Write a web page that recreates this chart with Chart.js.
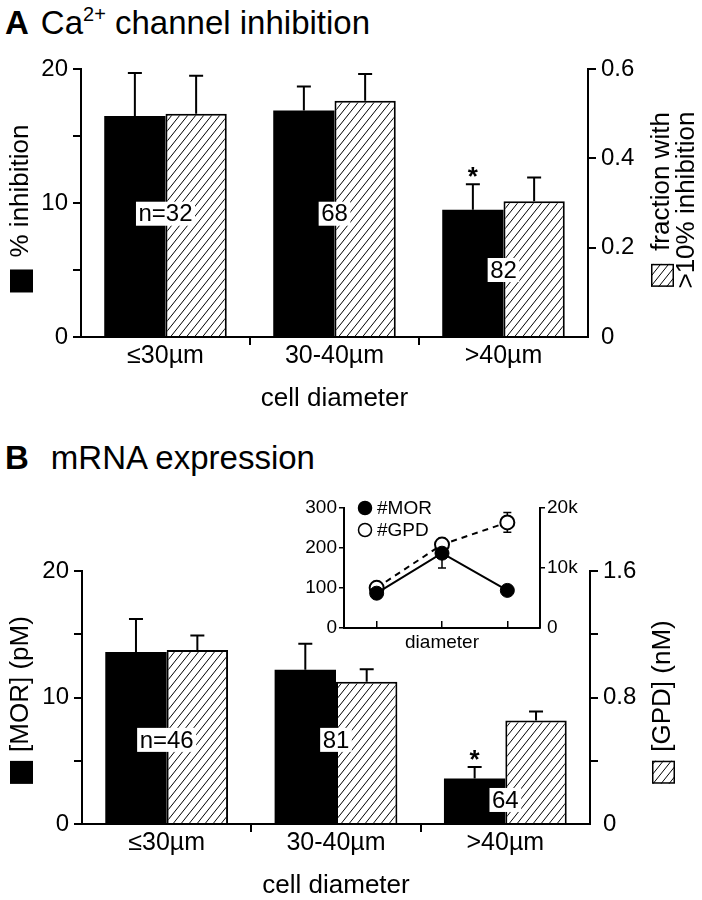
<!DOCTYPE html>
<html>
<head>
<meta charset="utf-8">
<script src="https://cdn.jsdelivr.net/npm/chart.js@4.4.0/dist/chart.umd.min.js"></script>
<style>
  body { margin: 0; background: #fff; width: 702px; height: 900px; position: relative; overflow: hidden;
         font-family: 'Liberation Sans', Arial, Helvetica, sans-serif; color: #000; }
  .title { position: absolute; left: 5px; font-size: 33px; line-height: 33px; white-space: nowrap; }
  .title b { display: inline-block; }
  .title .sup { font-size: 20px; position: relative; top: -13px; }
  canvas { position: absolute; }
</style>
</head>
<body>
<div class="title" style="top:6px"><b style="margin-right:12px">A</b>Ca<span class="sup">2+</span> channel inhibition</div>
<div class="title" style="top:441px"><b style="margin-right:22px">B</b>mRNA expression</div>
<canvas id="panelA" width="702" height="420" style="left:0;top:0"></canvas>
<canvas id="panelB" width="702" height="460" style="left:0;top:440px"></canvas>
<canvas id="inset" width="320" height="180" style="left:290px;top:480px"></canvas>
<script>
const FONT = "'Liberation Sans', Arial, Helvetica, sans-serif";
Chart.defaults.font.family = FONT;
Chart.defaults.color = '#000';

// categories
const sizeGroups = ['≤30µm', '30-40µm', '>40µm'];

// A: Ca2+ channel inhibition
const inhibitionPct = [16.5, 16.9, 9.5];
const inhibitionPctErr = [3.2, 1.8, 1.9];
const fractionInhibited = [0.50, 0.529, 0.304];
const fractionInhibitedErr = [0.085, 0.06, 0.053];
const cellCountsA = ['n=32', '68', '82'];

// B: mRNA expression
const morConc = [13.6, 12.2, 3.6];
const morConcErr = [2.6, 2.05, 0.9];
const gpdConc = [1.10, 0.90, 0.654];
const gpdConcErr = [0.092, 0.078, 0.057];
const cellCountsB = ['n=46', '81', '64'];

// B inset: copies per cell
const morCopies = [87, 187, 94];
const morCopiesErr = [8, 37, 10];
const gpdCopies = [6700, 13900, 17600];
const gpdCopiesErr = [500, 900, 1650];

// tick labels
const leftTickLabels = [0, 10, 20];
const rightTickLabelsA = [0, 0.2, 0.4, 0.6];
const rightTickLabelsB = [0, 0.8, 1.6];
const insetLeftTicks = [0, 100, 200, 300];
const insetRightTicks = ['0', '10k', '20k'];

function makeHatch() {
  const c = document.createElement('canvas');
  c.width = 8; c.height = 10;
  const g = c.getContext('2d');
  g.fillStyle = '#fff';
  g.fillRect(0, 0, 8, 10);
  g.strokeStyle = '#000';
  g.lineWidth = 1;
  g.beginPath();
  for (const off of [-8, 0, 8]) {
    g.moveTo(off - 1, 11.25);
    g.lineTo(off + 9, -1.25);
  }
  g.stroke();
  return g.createPattern(c, 'repeat');
}
const hatch = makeHatch();

function swatch(ctx, x, y, s, kind) {
  if (kind === 'solid') {
    ctx.fillStyle = '#000';
    ctx.fillRect(x, y, s, s);
  } else {
    ctx.fillStyle = hatch;
    ctx.fillRect(x, y, s, s);
    ctx.strokeStyle = '#000';
    ctx.lineWidth = 1.5;
    ctx.strokeRect(x + 0.75, y + 0.75, s - 1.5, s - 1.5);
  }
}

function near(list, v) {
  return list.some(t => Math.abs(t - v) < 1e-6);
}

// error bars, n labels, star, axis titles
const barExtras = {
  id: 'barExtras',
  afterDatasetsDraw(chart, args, opts) {
    const ctx = chart.ctx;
    const xs = chart.scales.x;
    ctx.save();
    ctx.strokeStyle = '#000';
    ctx.lineWidth = 2;
    chart.data.datasets.forEach((ds, di) => {
      const meta = chart.getDatasetMeta(di);
      const ys = chart.scales[ds.yAxisID];
      meta.data.forEach((bar, i) => {
        const top = ys.getPixelForValue(ds.data[i] + ds.errors[i]);
        ctx.beginPath();
        ctx.moveTo(bar.x, bar.y);
        ctx.lineTo(bar.x, top);
        ctx.moveTo(bar.x - 7, top);
        ctx.lineTo(bar.x + 7, top);
        ctx.stroke();
        if (di === 0 && i === opts.starIndex) {
          ctx.fillStyle = '#000';
          ctx.font = 'bold 26px ' + FONT;
          ctx.textAlign = 'center';
          ctx.textBaseline = 'alphabetic';
          ctx.fillText('*', bar.x, top + 1);
        }
      });
    });

    // n labels in white boxes
    const yl = chart.scales.yL;
    ctx.font = '24px ' + FONT;
    ctx.textAlign = 'center';
    ctx.textBaseline = 'middle';
    opts.counts.forEach((t, i) => {
      const x = xs.getPixelForValue(i);
      const y = yl.getPixelForValue(opts.countAt[i]);
      const w = ctx.measureText(t).width + 5;
      ctx.fillStyle = '#fff';
      ctx.fillRect(x - w / 2, y - 12, w, 24);
      ctx.fillStyle = '#000';
      ctx.fillText(t, x, y + 1);
    });
    ctx.restore();
  },
  afterDraw(chart, args, opts) {
    const ctx = chart.ctx;
    const a = chart.chartArea;
    ctx.save();
    ctx.fillStyle = '#000';
    ctx.font = '26px ' + FONT;
    ctx.textAlign = 'center';
    ctx.textBaseline = 'alphabetic';
    ctx.fillText(opts.xTitle, (a.left + a.right) / 2, a.bottom + 69);

    const mid = (a.top + a.bottom) / 2;
    opts.vTitles.forEach(t => {
      ctx.font = '26px ' + FONT;
      const tw = ctx.measureText(t.text).width;
      const sw = t.swatch ? 24 : 0;
      const gap = t.swatch ? t.gap : 0;
      const y0 = mid + t.dy + (sw + gap + tw) / 2;
      if (t.swatch) swatch(ctx, t.x - 11, y0 - sw, sw - 1, t.swatch);
      ctx.save();
      ctx.translate(t.x, y0 - sw - gap);
      ctx.rotate(-Math.PI / 2);
      ctx.fillStyle = '#000';
      ctx.textAlign = 'left';
      ctx.textBaseline = 'middle';
      ctx.fillText(t.text, 0, 0);
      ctx.restore();
    });
    ctx.restore();
  }
};

function barPanel(id, p) {
  const gridTick = { display: true, drawOnChartArea: false, tickLength: 8, lineWidth: 2, color: '#000' };
  return new Chart(document.getElementById(id), {
    type: 'bar',
    data: {
      labels: sizeGroups,
      datasets: [
        { data: p.black, errors: p.blackErr, yAxisID: 'yL', backgroundColor: '#000', borderWidth: 0,
          categoryPercentage: 0.725, barPercentage: 1 },
        { data: p.hatched, errors: p.hatchedErr, yAxisID: 'yR', backgroundColor: hatch, borderColor: '#000',
          borderWidth: 2, categoryPercentage: 0.725, barPercentage: 1 }
      ]
    },
    options: {
      animation: false,
      responsive: false,
      devicePixelRatio: 1,
      layout: { padding: { top: p.top, left: 0, right: 0, bottom: 0 } },
      plugins: {
        legend: { display: false },
        tooltip: { enabled: false },
        barExtras: { counts: p.counts, countAt: p.countAt, starIndex: 2, xTitle: 'cell diameter', vTitles: p.vTitles }
      },
      scales: {
        x: {
          grid: { display: true, drawOnChartArea: false, offset: true, tickLength: 8, lineWidth: 2,
                  color: c => (c.index === 1 || c.index === 2) ? '#000' : 'rgba(0,0,0,0)' },
          border: { display: true, color: '#000', width: 2 },
          ticks: { font: { size: 25 }, padding: -4, maxRotation: 0 },
          afterFit: s => { s.height = p.xh; }
        },
        yL: {
          position: 'left', min: 0, max: 20,
          ticks: { stepSize: 5, font: { size: 24 }, padding: 5,
                   callback: v => near(leftTickLabels, v) ? String(v) : '' },
          grid: gridTick,
          border: { display: true, color: '#000', width: 2 },
          afterFit: s => { s.width = p.lw; }
        },
        yR: {
          position: 'right', min: 0, max: p.rMax,
          ticks: { stepSize: p.rStep, font: { size: 24 }, padding: 5,
                   callback: v => near(p.rLabels, v) ? String(+v.toFixed(2)) : '' },
          grid: Object.assign({}, gridTick, { color: c => (c.tick && c.tick.value === 0) ? 'rgba(0,0,0,0)' : '#000' }),
          border: { display: true, color: '#000', width: 2 },
          afterFit: s => { s.width = p.rw; }
        }
      }
    },
    plugins: [barExtras]
  });
}

barPanel('panelA', {
  black: inhibitionPct, blackErr: inhibitionPctErr,
  hatched: fractionInhibited, hatchedErr: fractionInhibitedErr,
  counts: cellCountsA, countAt: [9.2, 9.2, 5.0],
  rMax: 0.6, rStep: 0.2, rLabels: rightTickLabelsA,
  top: 69, xh: 83, lw: 81, rw: 114,
  vTitles: [
    { x: 21, dy: 6, swatch: 'solid', gap: 12, text: '% inhibition' },
    { x: 662, dy: -3, swatch: 'hatch', gap: 13, text: 'fraction with' },
    { x: 687, dy: -3, swatch: null, text: '>10% inhibition' }
  ]
});

barPanel('panelB', {
  black: morConc, blackErr: morConcErr,
  hatched: gpdConc, hatchedErr: gpdConcErr,
  counts: cellCountsB, countAt: [6.65, 6.65, 1.9],
  rMax: 1.6, rStep: 0.4, rLabels: rightTickLabelsB,
  top: 131, xh: 76, lw: 82, rw: 112,
  vTitles: [
    { x: 21, dy: 3, swatch: 'solid', gap: 9, text: '[MOR] (pM)' },
    { x: 663, dy: 5, swatch: 'hatch', gap: 9, text: '[GPD] (nM)' }
  ]
});

// inset: error bars, legend, axis title
const insetExtras = {
  id: 'insetExtras',
  beforeDatasetsDraw(chart) {
    const ctx = chart.ctx;
    const xs = chart.scales.x;
    ctx.save();
    ctx.strokeStyle = '#000';
    ctx.lineWidth = 1.5;
    chart.data.datasets.forEach(ds => {
      const ys = chart.scales[ds.yAxisID];
      ds.data.forEach((v, i) => {
        const px = xs.getPixelForValue(i);
        const hi = ys.getPixelForValue(v + ds.errors[i]);
        const lo = ys.getPixelForValue(v - ds.errors[i]);
        ctx.beginPath();
        ctx.moveTo(px, lo); ctx.lineTo(px, hi);
        ctx.moveTo(px - 4, hi); ctx.lineTo(px + 4, hi);
        ctx.moveTo(px - 4, lo); ctx.lineTo(px + 4, lo);
        ctx.stroke();
      });
    });
    ctx.restore();
  },
  afterDraw(chart) {
    const ctx = chart.ctx;
    const a = chart.chartArea;
    ctx.save();
    ctx.font = '19px ' + FONT;
    ctx.fillStyle = '#000';
    ctx.strokeStyle = '#000';
    ctx.textAlign = 'left';
    ctx.textBaseline = 'middle';
    chart.data.datasets.forEach((ds, i) => {
      const y = a.top + i * 22;
      ctx.beginPath();
      ctx.arc(a.left + 21, y, 6.5, 0, Math.PI * 2);
      ctx.fillStyle = i === 0 ? '#000' : '#fff';
      ctx.fill();
      ctx.lineWidth = 1.5;
      ctx.stroke();
      ctx.fillStyle = '#000';
      ctx.fillText(ds.label, a.left + 33, y + 1);
    });
    ctx.textAlign = 'center';
    ctx.textBaseline = 'alphabetic';
    ctx.fillText('diameter', (a.left + a.right) / 2, a.bottom + 20);
    ctx.restore();
  }
};

new Chart(document.getElementById('inset'), {
  type: 'line',
  data: {
    labels: sizeGroups,
    datasets: [
      { label: '#MOR', data: morCopies, errors: morCopiesErr, yAxisID: 'yL', borderColor: '#000', borderWidth: 2,
        pointRadius: 7, pointBackgroundColor: '#000', pointBorderColor: '#000', pointBorderWidth: 1, tension: 0 },
      { label: '#GPD', data: gpdCopies, errors: gpdCopiesErr, yAxisID: 'yR', borderColor: '#000', borderWidth: 2,
        borderDash: [6, 5], pointRadius: 7, pointBackgroundColor: '#fff', pointBorderColor: '#000',
        pointBorderWidth: 2, tension: 0 }
    ]
  },
  options: {
    animation: false,
    responsive: false,
    devicePixelRatio: 1,
    layout: { padding: { top: 28, left: 0, right: 0, bottom: 0 } },
    plugins: { legend: { display: false }, tooltip: { enabled: false } },
    scales: {
      x: {
        offset: true,
        grid: { display: true, drawOnChartArea: false, offset: false, tickLength: -7, lineWidth: 1.5, color: '#000' },
        border: { display: true, color: '#000', width: 2 },
        ticks: { display: false },
        afterFit: s => { s.height = 32; }
      },
      yL: {
        position: 'left', min: 0, max: 300,
        ticks: { stepSize: 100, font: { size: 19 }, padding: 2,
                 callback: v => near(insetLeftTicks, v) ? String(v) : '' },
        grid: { display: true, drawOnChartArea: false, tickLength: 5, lineWidth: 1.5, color: '#000' },
        border: { display: true, color: '#000', width: 2 },
        afterFit: s => { s.width = 54; }
      },
      yR: {
        position: 'right', min: 0, max: 20000,
        ticks: { stepSize: 10000, font: { size: 19 }, padding: 2,
                 callback: (v, i) => insetRightTicks[i] },
        grid: { display: true, drawOnChartArea: false, tickLength: 5, lineWidth: 1.5,
                color: c => (c.tick && c.tick.value === 0) ? 'rgba(0,0,0,0)' : '#000' },
        border: { display: true, color: '#000', width: 2 },
        afterFit: s => { s.width = 70; }
      }
    }
  },
  plugins: [insetExtras]
});
</script>
</body>
</html>
